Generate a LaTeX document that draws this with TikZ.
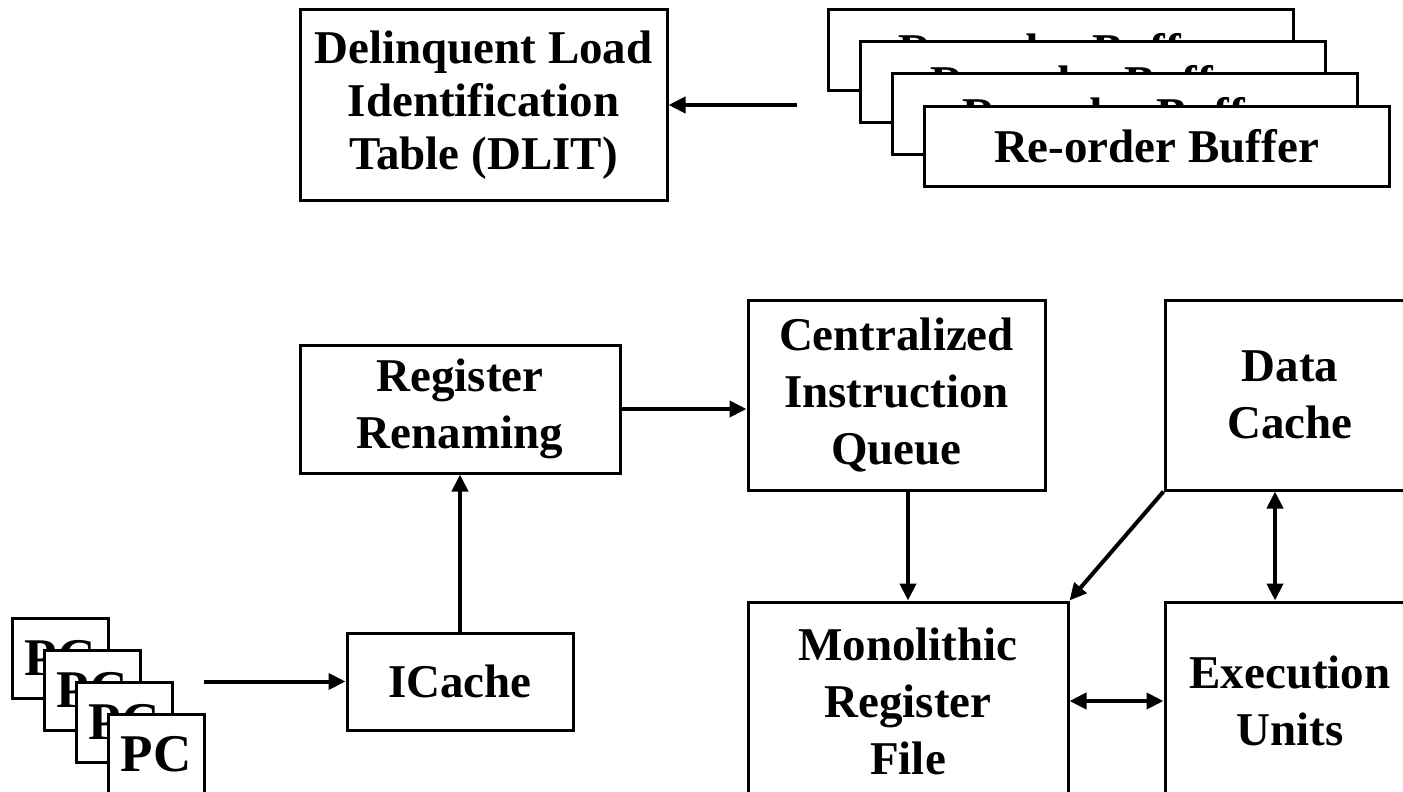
\documentclass[tikz,border=0pt]{standalone}
\usepackage{fontspec}
\setmainfont{Liberation Serif}
\usetikzlibrary{arrows.meta}

\begin{document}
\begin{tikzpicture}[x=1pt,y=-1pt,
     block/.style={draw, fill=white, line width=3pt, inner sep=0pt, align=center,
                   font=\bfseries\fontsize{47}{57}\selectfont},
     arr/.style={line width=4pt, -{Triangle[length=17pt,width=16pt]}},
     dblarr/.style={line width=4pt, {Triangle[length=17pt,width=16pt]}-{Triangle[length=17pt,width=16pt]}}]

     \useasboundingbox (0,0) rectangle (1403,792);
     \clip (0,0) rectangle (1403,792);

     % top row
     \node[block, minimum width=367pt, minimum height=190pt,
           font=\bfseries\fontsize{47}{53}\selectfont] (DLIT) at (483.5,105)
           {Delinquent Load\\Identification\\Table (DLIT)};
     \foreach \i in {0,...,3}
        \node[block, minimum width=465pt, minimum height=80pt] (ROB\i) at (1060.5+32*\i,50+32*\i) {Re-order Buffer};
     \coordinate (ROBtail) at (797,105);
     \draw[arr] (ROBtail) -- (DLIT.east);

     % pipeline
     \node[block, minimum width=320pt, minimum height=128pt] (Rename) at (460,409) {Register\\Renaming};
     \node[block, minimum width=297pt, minimum height=190pt] (IQ) at (896.5,395) {Centralized\\Instruction\\Queue};
     \node[block, minimum width=250pt, minimum height=190pt] (DCache) at (1290,395) {Data\\Cache};
     \node[block, minimum width=320pt, minimum height=198pt] (RegFile) at (908,701) {Monolithic\\Register\\File};
     \node[block, minimum width=250pt, minimum height=198pt] (Exec) at (1290,701) {Execution\\Units};
     \node[block, minimum width=226pt, minimum height=97pt] (ICache) at (460,681.5) {ICache};
     \foreach \i in {0,...,3}
        \node[block, minimum width=96pt, minimum height=80pt,
              font=\bfseries\fontsize{53}{60}\selectfont] (PC\i) at (60+32*\i,658+32*\i) {PC};
     \coordinate (PCtail) at (204,681.5);

     \draw[arr] (PCtail) -- (ICache.west);
     \draw[arr] (ICache.north) -- (Rename.south);
     \draw[arr] (Rename.east) -- (Rename.east -| IQ.west);
     \draw[arr] (RegFile.north |- IQ.south) -- (RegFile.north);
     \draw[arr] (DCache.south west) -- (RegFile.north east);
     \draw[dblarr] ([xshift=-15pt]DCache.south) -- ([xshift=-15pt]Exec.north);
     \draw[dblarr] (RegFile.east) -- (Exec.west);
\end{tikzpicture}
\end{document}
